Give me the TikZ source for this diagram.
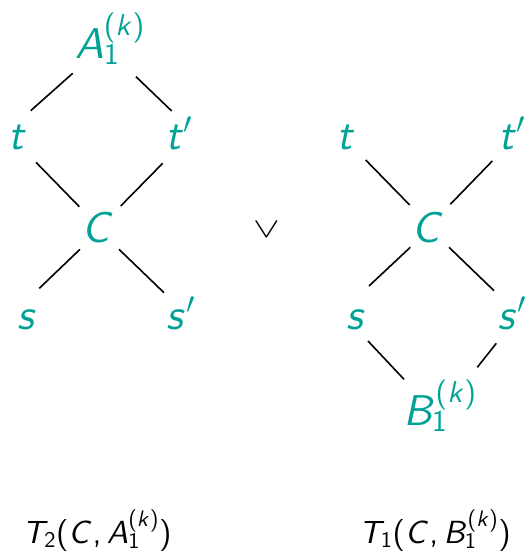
\RequirePackage{fix-cm}
\documentclass[tikz,border=0pt]{standalone}
\usepackage{graphicx}
\DeclareFontFamily{OT1}{mysf}{}
\DeclareFontShape{OT1}{mysf}{m}{n}{<->cmss10}{}
\DeclareFontShape{OT1}{mysf}{m}{sl}{<->cmssi10}{}
\DeclareSymbolFont{sfit}{OT1}{mysf}{m}{sl}
\DeclareSymbolFont{sfup}{OT1}{mysf}{m}{n}
\DeclareMathSymbol{A}{\mathalpha}{sfit}{`A}
\DeclareMathSymbol{B}{\mathalpha}{sfit}{`B}
\DeclareMathSymbol{C}{\mathalpha}{sfit}{`C}
\DeclareMathSymbol{T}{\mathalpha}{sfit}{`T}
\DeclareMathSymbol{k}{\mathalpha}{sfit}{`k}
\DeclareMathSymbol{s}{\mathalpha}{sfit}{`s}
\DeclareMathSymbol{t}{\mathalpha}{sfit}{`t}
\DeclareMathSymbol{1}{\mathord}{sfup}{`1}
\DeclareMathSymbol{2}{\mathord}{sfup}{`2}
\DeclareMathSymbol{(}{\mathopen}{sfup}{`(}
\DeclareMathSymbol{)}{\mathclose}{sfup}{`)}
\DeclareMathSymbol{,}{\mathpunct}{sfup}{`,}
\definecolor{tealc}{RGB}{0,162,150}
\tikzset{
  vtx/.style={text=tealc, font=\fontsize{43}{50}\selectfont, anchor=base, inner sep=0pt},
  lab/.style={text=black, font=\fontsize{32}{38}\selectfont, anchor=base, inner sep=0pt},
  op/.style={text=black, font=\fontsize{40}{44}\selectfont, inner sep=0pt},
  edge/.style={draw=black, line width=1.6pt}
}
\begin{document}
\begin{tikzpicture}[x=1pt,y=-1pt]
\useasboundingbox (0,0) rectangle (526,552);
% left tree
\node[vtx] (A)  at (110,58)  {$A_1^{(k)}$};
\node[vtx] (t)  at (17.5,149) {$t$};
\node[vtx] (tp) at (179,149) {$t'$};
\node[vtx] (C)  at (98,242)  {$C$};
\node[vtx] (s)  at (27,329)  {$s$};
\node[vtx] (sp) at (180.5,329) {$s'$};
% right tree
\node[vtx] (rt)  at (346,149) {$t$};
\node[vtx] (rtp) at (512,149) {$t'$};
\node[vtx] (rC)  at (428,242) {$C$};
\node[vtx] (rs)  at (356,329) {$s$};
\node[vtx] (rsp) at (512,329) {$s'$};
\node[vtx] (B)   at (440,425) {$B_1^{(k)}$};
% operator
\node[op] (vee) at (266.5,229.7) {\scalebox{1}[0.7]{$\vee$}};
% captions
\node[lab] (L1) at (97,543)  {$T_2(C,A_1^{(k)})$};
\node[lab] (L2) at (435,543) {$T_1(C,B_1^{(k)})$};
% left edges
\draw[edge] ([shift={(-37.3,15.3)}]A.base) -- ([shift={(13.2,-38.3)}]t.base);
\draw[edge] ([shift={(26,18.7)}]A.base) -- ([shift={(-7.3,-38)}]tp.base);
\draw[edge] ([shift={(18.5,13.3)}]t.base) -- ([shift={(-18.7,-35.3)}]C.base);
\draw[edge] ([shift={(-16.3,14.3)}]tp.base) -- ([shift={(22.7,-36)}]C.base);
\draw[edge] ([shift={(-18,7.3)}]C.base) -- ([shift={(12.3,-40.7)}]s.base);
\draw[edge] ([shift={(21,7.3)}]C.base) -- ([shift={(-16.5,-36.3)}]sp.base);
% right edges
\draw[edge] ([shift={(19.7,11)}]rt.base) -- ([shift={(-18.3,-37)}]rC.base);
\draw[edge] ([shift={(-19.7,12)}]rtp.base) -- ([shift={(22.3,-37.7)}]rC.base);
\draw[edge] ([shift={(-17.7,5.3)}]rC.base) -- ([shift={(13,-43)}]rs.base);
\draw[edge] ([shift={(21,5.3)}]rC.base) -- ([shift={(-18,-38.3)}]rsp.base);
\draw[edge] ([shift={(12,12)}]rs.base) -- ([shift={(-36,-45.7)}]B.base);
\draw[edge] ([shift={(-15.7,14.3)}]rsp.base) -- ([shift={(37.3,-57.7)}]B.base);
\end{tikzpicture}
\end{document}
